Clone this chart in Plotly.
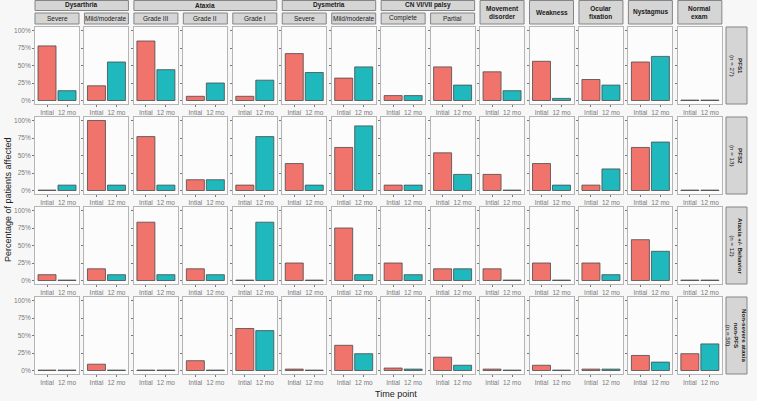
import plotly.graph_objects as go

# ---------------- data ----------------
time_points = ["Intial", "12 mo"]
groups = ["PFS1", "PFS2", "Ataxia +/- Behavior", "Non-severe ataxia non-PFS"]
group_labels = ["<b>PFS1</b><br>(n = 27)", "<b>PFS2</b><br>(n = 13)",
                "<b>Ataxia +/- Behavior</b><br>(n = 12)",
                "<b>Non-severe ataxia</b><br><b>non-PFS</b><br>(n = 58)"]
symptoms = ["Dysarthria|Severe", "Dysarthria|Mild/moderate",
            "Ataxia|Grade III", "Ataxia|Grade II", "Ataxia|Grade I",
            "Dysmetria|Severe", "Dysmetria|Mild/moderate",
            "CN VI/VII palsy|Complete", "CN VI/VII palsy|Partial",
            "Movement<br>disorder", "Weakness", "Ocular<br>fixation",
            "Nystagmus", "Normal<br>exam"]

# percentage affected: [initial, 12 mo] per symptom
pfs1_initial = [78, 21, 85, 6, 6, 67, 32, 7, 48, 41, 56, 30, 55, 0]
pfs1_12mo    = [14, 55, 44, 25, 29, 40, 48, 7, 22, 14, 3, 22, 63, 0]
pfs2_initial = [0, 100, 77, 15.4, 7.7, 38.5, 61.5, 7.7, 53.8, 23, 38.5, 7.7, 61.5, 0]
pfs2_12mo    = [7.7, 7.7, 7.7, 15.4, 77, 7.7, 92.3, 7.7, 23, 0, 7.7, 30.8, 69.2, 0]
atx_initial  = [8.3, 16.7, 83.3, 16.7, 0, 25, 75, 25, 16.7, 16.7, 25, 25, 58.3, 0]
atx_12mo     = [0, 8.3, 8.3, 8.3, 83.3, 0, 8.3, 8.3, 16.7, 0, 0, 8.3, 41.7, 0]
nsa_initial  = [0, 9, 0, 14, 60, 2, 36, 3.5, 19, 2, 7.5, 2, 21.5, 24]
nsa_12mo     = [0, 0, 0, 0, 57, 0, 24, 2, 7.5, 0, 0, 2, 12, 38]

values = [(pfs1_initial, pfs1_12mo), (pfs2_initial, pfs2_12mo),
          (atx_initial, atx_12mo), (nsa_initial, nsa_12mo)]

y_ticks = [0, 25, 50, 75, 100]
y_tick_labels = ["0%", "25%", "50%", "75%", "100%"]

# ---------------- layout helpers ----------------
W, H = 757, 401
RED, TEAL = "#F1746C", "#1EB8BD"
FONT = "Liberation Sans, Arial, sans-serif"
NC, NR = len(symptoms), len(groups)


def col_px(i):
    x0 = 35 + i * 49.45
    return x0, x0 + 44


def row_px(r):
    y0 = 27 + r * 90
    return y0, y0 + 77


def px_x(p):
    return p / W


def px_y(p):
    return 1 - p / H


fig = go.Figure()
layout = dict(
    width=W, height=H, margin=dict(l=0, r=0, t=0, b=0),
    paper_bgcolor="#F7F7F7", plot_bgcolor="#FCFCFC",
    showlegend=False, bargap=0.1,
    font=dict(family=FONT, size=7, color="#333"),
)
annotations = []
shapes = []

k = 0
for r in range(NR):
    ini, twelve = values[r]
    for c in range(NC):
        k += 1
        xa = "x" if k == 1 else f"x{k}"
        ya = "y" if k == 1 else f"y{k}"
        vals = [ini[c], twelve[c]]
        shown = [max(v, 0.6) for v in vals]  # keep zero bars visible as a thin outline
        fig.add_trace(go.Bar(
            x=time_points, y=shown, xaxis=xa, yaxis=ya,
            marker=dict(color=[RED, TEAL], line=dict(color="#4A4A4A", width=0.8)),
            customdata=vals, hovertemplate="%{x}: %{customdata}%<extra></extra>",
        ))
        x0, x1 = col_px(c)
        y0, y1 = row_px(r)
        layout["xaxis" if k == 1 else f"xaxis{k}"] = dict(
            domain=[px_x(x0), px_x(x1)], anchor=ya, type="category",
            range=[-0.6, 1.6], showgrid=False, zeroline=False,
            showline=True, mirror=True, linecolor="#B5B5B5", linewidth=1,
            ticks="outside", ticklen=2, tickcolor="#777", tickwidth=0.8,
            tickfont=dict(size=6.5, color="#7A7A7A", family=FONT), fixedrange=True,
        )
        layout["yaxis" if k == 1 else f"yaxis{k}"] = dict(
            domain=[px_y(y1), px_y(y0)], anchor=xa,
            range=[-5, 105], showgrid=False, zeroline=False,
            showline=True, mirror=True, linecolor="#B5B5B5", linewidth=1,
            ticks="outside", ticklen=2, tickcolor="#777", tickwidth=0.8,
            tickvals=y_ticks, ticktext=y_tick_labels,
            showticklabels=(c == 0),
            tickfont=dict(size=6.5, color="#7A7A7A", family=FONT), fixedrange=True,
        )

STRIP_FILL, STRIP_LINE = "#D5D5D5", "#858585"


def strip(xa, xb, ya, yb, text, size=6.5, angle=0):
    shapes.append(dict(type="rect", xref="paper", yref="paper",
                       x0=px_x(xa), x1=px_x(xb), y0=px_y(yb), y1=px_y(ya),
                       fillcolor=STRIP_FILL, line=dict(color=STRIP_LINE, width=1),
                       layer="below"))
    annotations.append(dict(xref="paper", yref="paper",
                            x=px_x((xa + xb) / 2), y=px_y((ya + yb) / 2),
                            text=text, showarrow=False, textangle=angle,
                            font=dict(size=size, color="#1A1A1A", family=FONT),
                            xanchor="center", yanchor="middle"))


# column strips
i = 0
while i < NC:
    name = symptoms[i]
    if "|" in name:
        grp = name.split("|")[0]
        j = i
        while j < NC and symptoms[j].startswith(grp + "|"):
            j += 1
        strip(col_px(i)[0], col_px(j - 1)[1], 0.5, 10.5, f"<b>{grp}</b>")
        for m in range(i, j):
            strip(col_px(m)[0], col_px(m)[1], 13, 24, symptoms[m].split("|")[1])
        i = j
    else:
        strip(col_px(i)[0], col_px(i)[1], 0.5, 24, f"<b>{name}</b>")
        i += 1

# row strips
for r in range(NR):
    y0, y1 = row_px(r)
    strip(726, 747, y0, y1, group_labels[r], size=6.2, angle=90)

annotations.append(dict(xref="paper", yref="paper", x=px_x(8), y=px_y(200),
                        text="Percentage of patients affected", showarrow=False,
                        textangle=-90, font=dict(size=9, color="#222", family=FONT),
                        xanchor="center", yanchor="middle"))
annotations.append(dict(xref="paper", yref="paper", x=px_x(396), y=px_y(394),
                        text="Time point", showarrow=False,
                        font=dict(size=9, color="#222", family=FONT),
                        xanchor="center", yanchor="middle"))

layout["annotations"] = annotations
layout["shapes"] = shapes
fig.update_layout(**layout)
fig.write_html("out.html", config={"displayModeBar": False},
               post_script="document.body.style.margin='0';document.body.style.overflow='hidden';")
